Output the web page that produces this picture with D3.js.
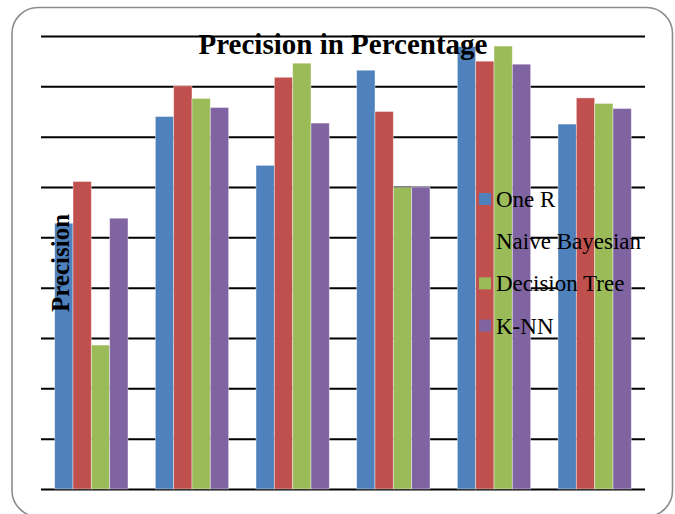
<!DOCTYPE html>
<html>
<head>
<meta charset="utf-8">
<script src="https://cdn.jsdelivr.net/npm/d3@7"></script>
<style>
  body { margin: 0; background: #fff; }
</style>
</head>
<body>
<div id="d3-container"></div>
<script>
/**
 * CONSTANTS AND DATA
 * */
const width = 675,
  height = 514,
  margin = { top: 36, bottom: 25, left: 41, right: 30 };

const serif = "'Liberation Serif', 'Times New Roman', Times, serif";

const categories = ["Set 1", "Set 2", "Set 3", "Set 4", "Set 5", "Set 6"];
const series = ["One R", "Naive Bayesian", "Decision Tree", "K-NN"];
const colors = ["#4F81BD", "#C0504D", "#9BBB59", "#8064A2"];

// values (axis 0-90, labels hidden)
const oneR = [52.8, 74.0, 64.3, 83.2, 87.9, 72.5];
const naiveBayesian = [61.1, 80.1, 81.8, 75.0, 85.0, 77.7];
const decisionTree = [28.6, 77.6, 84.6, 59.9, 88.0, 76.6];
const knn = [53.8, 75.8, 72.7, 60.0, 84.4, 75.6];
const values = [oneR, naiveBayesian, decisionTree, knn];

const yTicks = d3.range(0, 91, 10);

const svg = d3.select("#d3-container")
  .append("svg")
  .attr("width", width)
  .attr("height", height);

// outer chart border
svg.append("rect")
  .attr("x", 12)
  .attr("y", 7.5)
  .attr("width", 660.5)
  .attr("height", 509)
  .attr("rx", 26)
  .attr("fill", "#fff")
  .attr("stroke", "#8c8c8c")
  .attr("stroke-width", 1.6);

const x0 = d3.scaleBand()
  .domain(categories)
  .range([margin.left, width - margin.right])
  .paddingInner(0.2717)
  .paddingOuter(0.2717 / 2);

const x1 = d3.scaleBand()
  .domain(series)
  .range([0, x0.bandwidth()]);

const y = d3.scaleLinear()
  .domain([0, 90])
  .range([height - margin.bottom, margin.top]);

// gridlines
svg.append("g")
  .attr("transform", `translate(${margin.left},0)`)
  .call(d3.axisLeft(y)
    .tickValues(yTicks)
    .tickSize(-(width - margin.left - margin.right))
    .tickFormat(""))
  .call(g => g.select(".domain").remove())
  .call(g => g.selectAll(".tick line")
    .attr("stroke", "#000")
    .attr("stroke-width", 2));

// bars
const groups = svg.append("g")
  .selectAll("g")
  .data(categories)
  .join("g")
  .attr("transform", d => `translate(${x0(d)},0)`);

groups.selectAll("rect")
  .data((d, i) => series.map((s, j) => ({ s, j, v: values[j][i] })))
  .join("rect")
  .attr("x", d => x1(d.s))
  .attr("y", d => y(d.v))
  .attr("width", x1.bandwidth())
  .attr("height", d => y(0) - y(d.v))
  .attr("fill", d => colors[d.j])
  .attr("stroke", "#fff")
  .attr("stroke-opacity", 0.5)
  .attr("stroke-width", 0.8);

// title
svg.append("text")
  .attr("x", 343)
  .attr("y", 54)
  .attr("text-anchor", "middle")
  .attr("font-family", serif)
  .attr("font-size", 29)
  .attr("font-weight", "bold")
  .text("Precision in Percentage");

// y axis title
svg.append("text")
  .attr("transform", "translate(69,263) rotate(-90)")
  .attr("text-anchor", "middle")
  .attr("font-family", serif)
  .attr("font-size", 25)
  .attr("font-weight", "bold")
  .text("Precision");

// legend
const legend = svg.append("g")
  .selectAll("g")
  .data(series)
  .join("g")
  .attr("transform", (d, i) => `translate(479,${199 + i * 42.2})`);

legend.append("rect")
  .attr("x", 0)
  .attr("y", -6)
  .attr("width", 12)
  .attr("height", 12)
  .attr("fill", (d, i) => colors[i]);

legend.append("text")
  .attr("x", 17)
  .attr("y", 8)
  .attr("font-family", serif)
  .attr("font-size", 23)
  .text(d => d);
</script>
</body>
</html>
